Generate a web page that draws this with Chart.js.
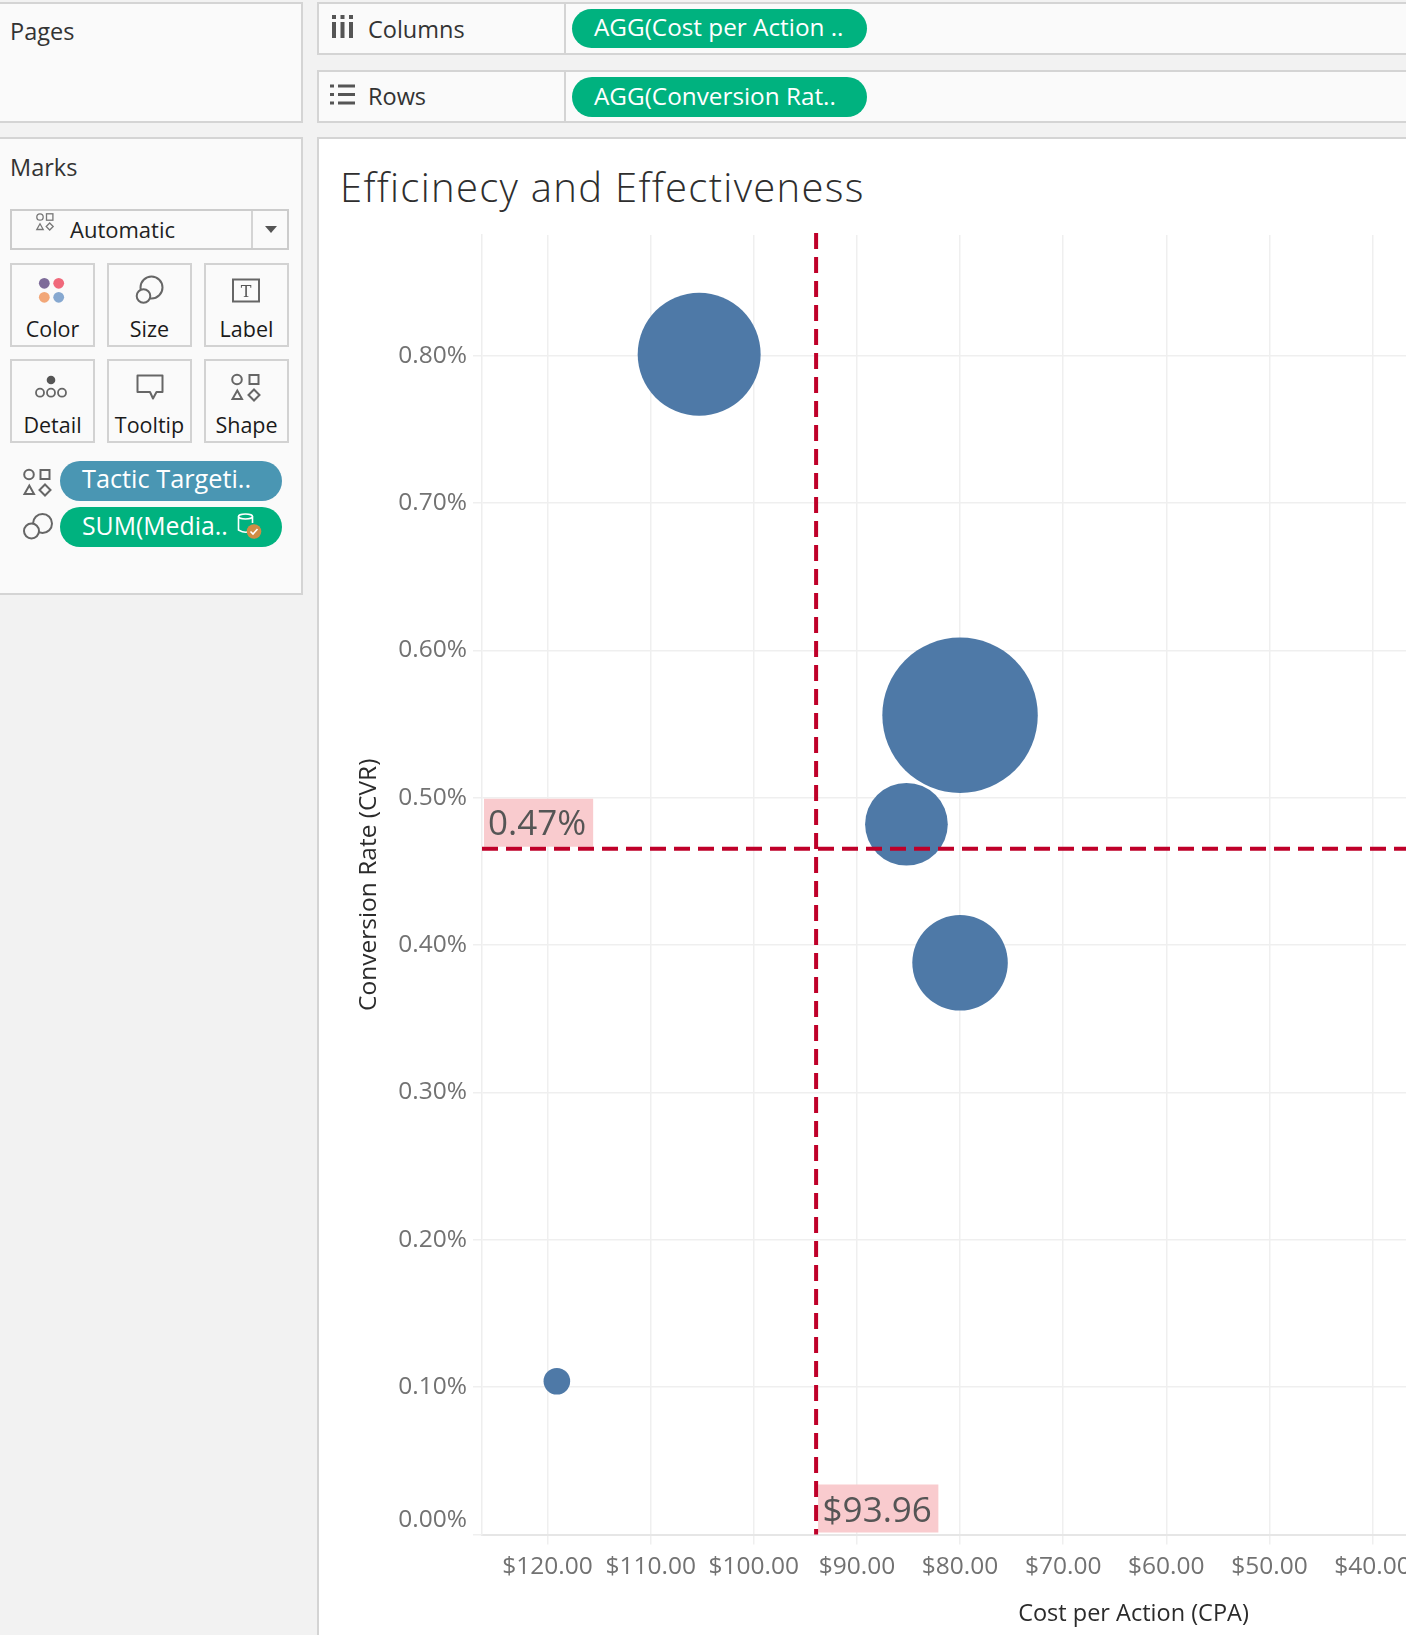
<!DOCTYPE html>
<html>
<head>
<meta charset="utf-8">
<script src="https://cdn.jsdelivr.net/npm/chart.js@4.4.1/dist/chart.umd.min.js"></script>
<style>
html,body{margin:0;padding:0;}
body{width:1406px;height:1635px;overflow:hidden;background:#f2f2f2;position:relative;font-family:"Open Sans","Noto Sans",sans-serif;}
.box{position:absolute;background:#fafafa;border:2px solid #d4d4d4;box-sizing:border-box;}
.t{position:absolute;line-height:1;white-space:nowrap;}
.pill{position:absolute;border-radius:21px;}
.btn{position:absolute;width:85px;height:84px;border:2px solid #d2d2d2;box-sizing:border-box;background:#fafafa;}
.bl{position:absolute;left:0;width:100%;text-align:center;font-size:21.5px;color:#1a1a1a;line-height:1;top:52.6px;}
#chartPanel{position:absolute;left:317px;top:137px;width:1200px;height:1600px;background:#fff;border:2px solid #d4d4d4;box-sizing:border-box;}
#c{position:absolute;left:319px;top:139px;}
#icons{position:absolute;left:0;top:0;pointer-events:none;}
</style>
</head>
<body>
<!-- left column -->
<div class="box" style="left:-2px;top:2px;width:305px;height:121px;"></div>
<div class="t" style="left:10px;top:20.3px;font-size:23.5px;color:#333;">Pages</div>
<div class="box" style="left:-2px;top:137px;width:305px;height:458px;"></div>
<div class="t" style="left:10px;top:156.3px;font-size:23.5px;color:#333;">Marks</div>
<div class="box" style="left:10px;top:209px;width:279px;height:41px;background:#fafafa;border-color:#cccccc;"></div>
<div style="position:absolute;left:251px;top:211px;width:2px;height:37px;background:#d4d4d4;"></div>
<div class="t" style="left:70px;top:217.8px;font-size:22px;color:#222;">Automatic</div>

<div class="btn" style="left:10px;top:263px;"><div class="bl">Color</div></div>
<div class="btn" style="left:107px;top:263px;"><div class="bl">Size</div></div>
<div class="btn" style="left:204px;top:263px;"><div class="bl">Label</div></div>
<div class="btn" style="left:10px;top:359px;"><div class="bl">Detail</div></div>
<div class="btn" style="left:107px;top:359px;"><div class="bl">Tooltip</div></div>
<div class="btn" style="left:204px;top:359px;"><div class="bl">Shape</div></div>

<div class="pill" style="left:60px;top:461px;width:222px;height:40px;background:#4a96b3;"></div>
<div class="t" style="left:82px;top:466px;font-size:25.3px;color:#fff;">Tactic Targeti..</div>
<div class="pill" style="left:60px;top:507px;width:222px;height:40px;background:#00b27f;"></div>
<div class="t" style="left:82px;top:512.7px;font-size:24.8px;color:#fff;">SUM(Media..</div>

<!-- shelves -->
<div class="box" style="left:317px;top:2px;width:1200px;height:53px;"></div>
<div style="position:absolute;left:564px;top:4px;width:2px;height:49px;background:#d4d4d4;"></div>
<div class="t" style="left:368px;top:17.6px;font-size:23.5px;color:#333;">Columns</div>
<div class="pill" style="left:572px;top:9px;width:295px;height:39px;background:#00b27f;"></div>
<div class="t" style="left:594px;top:15.2px;font-size:24.3px;color:#fff;">AGG(Cost per Action ..</div>

<div class="box" style="left:317px;top:70px;width:1200px;height:53px;"></div>
<div style="position:absolute;left:564px;top:72px;width:2px;height:49px;background:#d4d4d4;"></div>
<div class="t" style="left:368px;top:85.3px;font-size:23.5px;color:#333;">Rows</div>
<div class="pill" style="left:572px;top:77px;width:295px;height:40px;background:#00b27f;"></div>
<div class="t" style="left:594px;top:83.5px;font-size:24.3px;color:#fff;">AGG(Conversion Rat..</div>

<!-- chart panel -->
<div id="chartPanel"></div>
<div class="t" style="left:340px;top:167.2px;font-size:40px;font-weight:300;letter-spacing:1.3px;color:#2e2e2e;">Efficinecy and Effectiveness</div>
<canvas id="c" width="1546" height="1496"></canvas>

<!-- UI icons -->
<svg id="icons" width="1406" height="600" viewBox="0 0 1406 600">
  <g fill="#555">
    <rect x="332" y="15" width="4" height="4"/><rect x="332" y="22" width="4" height="16"/>
    <rect x="340.5" y="15" width="4" height="4"/><rect x="340.5" y="22" width="4" height="16"/>
    <rect x="349" y="15" width="4" height="4"/><rect x="349" y="22" width="4" height="16"/>
  </g>
  <g fill="#555">
    <rect x="330" y="84.5" width="4" height="3"/><rect x="338" y="84.5" width="17" height="3"/>
    <rect x="330" y="93" width="4" height="3"/><rect x="338" y="93" width="17" height="3"/>
    <rect x="330" y="101.5" width="4" height="3"/><rect x="338" y="101.5" width="17" height="3"/>
  </g>
  <g fill="none" stroke="#777" stroke-width="1.3">
    <circle cx="40" cy="217" r="3.2"/>
    <rect x="46.5" y="213.8" width="6.4" height="6.4"/>
    <path d="M36.8 229.5 L40 223.8 L43.2 229.5 Z"/>
    <path d="M49.7 223 L53.2 226.5 L49.7 230 L46.2 226.5 Z"/>
  </g>
  <path d="M265 226 L277 226 L271 233 Z" fill="#555"/>
  <circle cx="44.3" cy="283.3" r="5.4" fill="#7d6b99"/>
  <circle cx="58.7" cy="283.3" r="5.4" fill="#f0697b"/>
  <circle cx="44.3" cy="297.3" r="5.4" fill="#f2a778"/>
  <circle cx="58.7" cy="297.3" r="5.4" fill="#86a8d0"/>
  <g fill="#fafafa" stroke="#666" stroke-width="2">
    <circle cx="151.5" cy="287.5" r="11"/>
    <circle cx="143.5" cy="296" r="6.8"/>
  </g>
  <rect x="233" y="279.5" width="26" height="22" fill="none" stroke="#666" stroke-width="2"/>
  <text x="246" y="297" text-anchor="middle" font-family="DejaVu Serif, serif" font-size="16" fill="#555">T</text>
  <circle cx="51" cy="380" r="4.3" fill="#555"/>
  <g fill="none" stroke="#666" stroke-width="1.8">
    <circle cx="40" cy="392.7" r="4"/><circle cx="51" cy="392.7" r="4"/><circle cx="62" cy="392.7" r="4"/>
  </g>
  <path d="M137.5 375.5 H162.5 V392 H156.5 L153 398.5 L150 392 H137.5 Z" fill="none" stroke="#666" stroke-width="2" stroke-linejoin="round"/>
  <g fill="none" stroke="#666" stroke-width="2">
    <circle cx="237" cy="379.5" r="4.8"/>
    <rect x="249.5" y="375" width="9" height="9"/>
    <path d="M232.5 399 L237.3 390.5 L242 399 Z"/>
    <path d="M254 389.5 L259.5 395 L254 400.5 L248.5 395 Z"/>
  </g>
  <g fill="none" stroke="#666" stroke-width="2">
    <circle cx="29" cy="474.5" r="4.8"/>
    <rect x="40.5" y="470" width="9" height="9"/>
    <path d="M24.5 494 L29.3 485.5 L34 494 Z"/>
    <path d="M45 484.5 L50.5 490 L45 495.5 L39.5 490 Z"/>
  </g>
  <g fill="#fafafa" stroke="#666" stroke-width="2">
    <circle cx="42.5" cy="523.5" r="9.5"/>
    <circle cx="31.5" cy="531" r="7.5"/>
  </g>
  <g fill="none" stroke="#fff" stroke-width="1.6">
    <ellipse cx="245.5" cy="516.5" rx="7" ry="2.5"/>
    <path d="M238.5 516.5 V530 Q245.5 534 250 531"/>
    <path d="M252.5 516.5 V523"/>
  </g>
  <circle cx="254" cy="531.5" r="7.3" fill="#d08c45"/>
  <path d="M250.5 531.5 L253 534 L257.5 529" fill="none" stroke="#fff" stroke-width="1.6"/>
</svg>

<script>
// ---- data ----
const tactics    = ['Tactic 1', 'Tactic 2', 'Tactic 3', 'Tactic 4', 'Tactic 5'];
const cpa        = [105.3, 80.0, 85.2, 80.0, 119.1];      // Cost per Action ($)
const cvr        = [0.801, 0.556, 0.482, 0.388, 0.104];   // Conversion Rate (%)
const mediaSpend = [37800, 60400, 17100, 22800, 1770];    // SUM(Media Spend), bubble size
const xTickValues = [0, 10, 20, 30, 40, 50, 60, 70, 80, 90, 100, 110, 120];
const yTickValues = [0, 0.1, 0.2, 0.3, 0.4, 0.5, 0.6, 0.7, 0.8];
const refCPA = 93.96;   // reference line, average CPA
const refCVR = 0.4654;  // reference line, average CVR

const FONT = '"Open Sans"';
const red = '#bf0029';
const pink = '#f9cbce';

const refLines = {
  id: 'refLines',
  afterDatasetsDraw(chart) {
    const {ctx, chartArea: a, scales: {x, y}} = chart;
    const px = x.getPixelForValue(refCPA);
    const py = y.getPixelForValue(refCVR);
    ctx.save();
    ctx.font = '35px ' + FONT;
    const t1 = refCVR.toFixed(2) + '%';
    const t2 = '$' + refCPA.toFixed(2);
    const w1 = ctx.measureText(t1).width, w2 = ctx.measureText(t2).width;
    ctx.fillStyle = pink;
    ctx.fillRect(a.left + 2, py - 50, w1 + 11, 48);
    ctx.fillRect(px + 2, a.bottom - 50, w2 + 11, 48);
    ctx.fillStyle = '#555';
    ctx.textBaseline = 'alphabetic';
    ctx.textAlign = 'left';
    ctx.fillText(t1, a.left + 6, py - 14);
    ctx.fillText(t2, px + 6.5, a.bottom - 13);
    ctx.strokeStyle = red;
    ctx.lineWidth = 4;
    ctx.setLineDash([16, 8]);
    ctx.beginPath(); ctx.moveTo(px, a.top - 2); ctx.lineTo(px, a.bottom); ctx.stroke();
    ctx.beginPath(); ctx.moveTo(a.left, py); ctx.lineTo(a.right, py); ctx.stroke();
    ctx.restore();
  }
};

new Chart(document.getElementById('c'), {
  type: 'bubble',
  data: {
    datasets: [{
      label: 'Tactic Targeting',
      data: tactics.map((t, i) => ({x: cpa[i], y: cvr[i], r: Math.sqrt(mediaSpend[i] / 10)})),
      backgroundColor: '#4e79a7',
      borderWidth: 0,
      hoverBorderWidth: 0,
      hoverRadius: 0
    }]
  },
  options: {
    responsive: false,
    animation: false,
    layout: {padding: {top: 96, right: 80, left: 0, bottom: 0}},
    plugins: {legend: {display: false}, tooltip: {enabled: false}},
    scales: {
      x: {
        type: 'linear', reverse: true, min: 0, max: 126.36,
        afterFit(s) { s.height = 100.5; },
        afterBuildTicks(s) { s.ticks = xTickValues.map(v => ({value: v})); },
        ticks: {
          callback: v => '$' + Number(v).toFixed(2),
          color: '#727272', font: {family: FONT, size: 24.5}, padding: 8,
          maxRotation: 0, autoSkip: false
        },
        grid: {color: '#efefef', lineWidth: 1.5, tickLength: 10},
        border: {color: '#e6e6e6', width: 2},
        title: {display: true, text: 'Cost per Action (CPA)', color: '#2b2b2b',
                font: {family: FONT, size: 23.5}, padding: {top: 0, bottom: 7}}
      },
      y: {
        type: 'linear', min: 0, max: 0.8819,
        afterFit(s) { s.width = 163; },
        afterBuildTicks(s) { s.ticks = yTickValues.map(v => ({value: v})); },
        ticks: {
          // the bottom label sits just above the axis line, as in the original
          callback: v => v === 0 ? [Number(v).toFixed(2) + '%', ''] : Number(v).toFixed(2) + '%',
          color: '#727272', font: {family: FONT, size: 24.5}, padding: 6
        },
        grid: {color: '#efefef', lineWidth: 1.5, tickLength: 9},
        border: {color: '#eeeeee', width: 1.5},
        title: {display: true, text: 'Conversion Rate (CVR)', color: '#2b2b2b',
                font: {family: FONT, size: 24.5}, padding: {top: 35, bottom: 0}}
      }
    }
  },
  plugins: [refLines]
});
</script>
</body>
</html>
